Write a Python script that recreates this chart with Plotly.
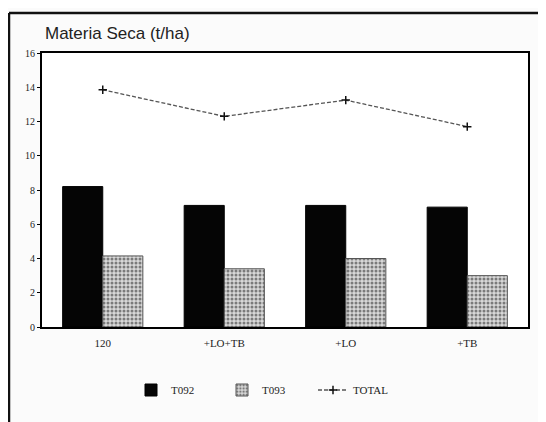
import plotly.graph_objects as go

categories = ["120", "+LO+TB", "+LO", "+TB"]
t092 = [8.2, 7.1, 7.1, 7.0]
t093 = [4.15, 3.4, 4.0, 3.0]
total = [13.85, 12.3, 13.25, 11.7]
y_ticks = [0, 2, 4, 6, 8, 10, 12, 14, 16]

OFF = 8  # page body margin offset
W, H = 546 - OFF, 422 - OFF
ML, MR, MT, MB = 42 - OFF, 18, 53 - OFF, 95
pw, ph = W - ML - MR, H - MT - MB

def px_x(x):
    return (x - OFF - ML) / pw

def px_y(y):
    return (H - MB - (y - OFF)) / ph

fig = go.Figure()
fig.add_trace(go.Bar(
    x=categories, y=t092, name="T092",
    marker=dict(color="#050505", line=dict(color="#000", width=1)),
))
fig.add_trace(go.Bar(
    x=categories, y=t093, name="T093",
    marker=dict(color="#d4d4d4", line=dict(color="#555", width=1),
                pattern=dict(shape=".", fgcolor="#7a7a7a", bgcolor="#d8d8d8",
                             size=4, solidity=0.45, fillmode="replace")),
))
fig.add_trace(go.Scatter(
    x=categories, y=total, name="TOTAL", mode="lines+markers",
    line=dict(color="#555", width=1.3, dash="4px,2px"),
    marker=dict(symbol="cross-thin", size=6, line=dict(color="#111", width=1.5)),
))

serif = "Liberation Serif, Times New Roman, serif"
fig.update_layout(
    width=W, height=H,
    margin=dict(l=ML, r=MR, t=MT, b=MB),
    paper_bgcolor="#fbfbfb", plot_bgcolor="#ffffff",
    barmode="group", bargap=0.34, bargroupgap=0,
    showlegend=True,
    legend=dict(orientation="h", x=px_x(131), xanchor="left",
                y=px_y(390), yanchor="middle",
                font=dict(family=serif, size=11, color="#222"),
                itemwidth=30, entrywidth=46, entrywidthmode="pixels",
                bgcolor="rgba(0,0,0,0)"),
    font=dict(family=serif, size=11, color="#222"),
    annotations=[dict(text="Materia Seca (t/ha)", xref="paper", yref="paper",
                      x=px_x(43), y=px_y(33), xanchor="left", yanchor="middle",
                      showarrow=False,
                      font=dict(family="Liberation Sans, Arial, sans-serif",
                                size=17, color="#222"))],
    shapes=[
        dict(type="line", xref="paper", yref="paper", x0=px_x(9), x1=px_x(9),
             y0=px_y(13), y1=px_y(430), line=dict(color="#111", width=2.5)),
        dict(type="line", xref="paper", yref="paper", x0=px_x(9), x1=px_x(541),
             y0=px_y(13), y1=px_y(13), line=dict(color="#111", width=2.5)),
        dict(type="line", xref="paper", yref="paper", x0=px_x(541), x1=px_x(541),
             y0=px_y(13), y1=px_y(430), line=dict(color="#333", width=1.5)),
        dict(type="line", xref="paper", yref="paper", x0=px_x(2), x1=px_x(2),
             y0=px_y(0), y1=px_y(430), line=dict(color="#999", width=1)),
    ],
)
fig.update_xaxes(showline=True, linecolor="#000", linewidth=2, mirror=True,
                 ticks="outside", ticklen=5, tickcolor="rgba(0,0,0,0)", showgrid=False,
                 tickfont=dict(family=serif, size=11, color="#222"))
fig.update_yaxes(range=[0, 16], tickvals=y_ticks, showline=True, linecolor="#000",
                 linewidth=2, mirror=True, ticks="outside", ticklen=3,
                 tickcolor="#000", showgrid=False, zeroline=False,
                 tickfont=dict(family=serif, size=10, color="#222"))

fig.write_html("out.html")
